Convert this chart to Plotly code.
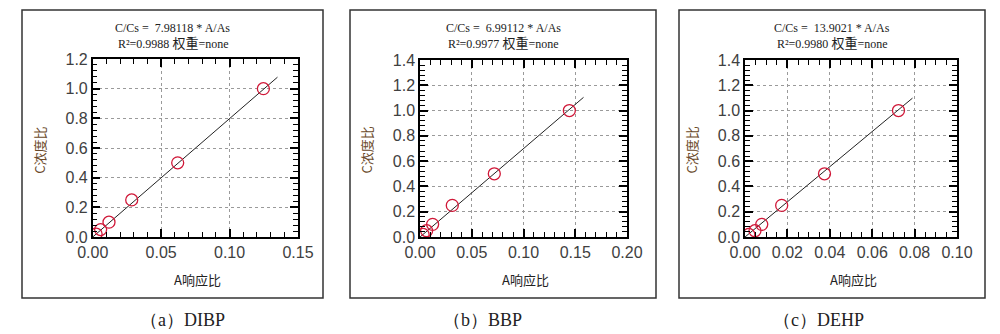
import plotly.graph_objects as go

# Calibration data: concentration ratio C/Cs vs response ratio A/As
conc_ratio = [0.02, 0.05, 0.1, 0.25, 0.5, 1.0]

resp_dibp = [0.0025, 0.0058, 0.0119, 0.0285, 0.0621, 0.1247]
resp_bbp = [0.0030, 0.0064, 0.0122, 0.0312, 0.0718, 0.1443]
resp_dehp = [0.0018, 0.0047, 0.0079, 0.0173, 0.0375, 0.0724]

slopes = [7.98118, 6.99112, 13.9021]
r_squared = [0.9988, 0.9977, 0.9980]
fit_x_end = [0.135, 0.158, 0.079]

compounds = ["DIBP", "BBP", "DEHP"]
panel_tags = ["a", "b", "c"]

x_ranges = [[0, 0.15], [0, 0.20], [0, 0.10]]
y_ranges = [[0, 1.2], [0, 1.4], [0, 1.4]]
x_major = [0.05, 0.05, 0.02]
x_minor = [0.01, 0.01, 0.005]
y_major = [0.2, 0.2, 0.2]
y_minor = [0.04, 0.04, 0.04]

responses = [resp_dibp, resp_bbp, resp_dehp]

W, H = 1000, 334


def px_x(v):
    return v / W


def px_y(v):
    return 1 - v / H


# pixel layout of each panel: frame box and plot area
frames = [(22, 10, 323, 298), (350, 10, 656, 298), (679, 10, 985, 298)]
plot_areas = [(92.7, 59, 298, 237), (420, 60, 627, 237), (745, 60, 957, 237)]
caption_x = [182, 482, 818]

fig = go.Figure()
layout = dict(
    template="none",
    width=W, height=H, margin=dict(l=0, r=0, t=0, b=0),
    paper_bgcolor="white", plot_bgcolor="white", showlegend=False,
    shapes=[], annotations=[],
)

for i in range(3):
    suffix = "" if i == 0 else str(i + 1)
    xa, ya = "x" + suffix, "y" + suffix
    resp = responses[i]
    k = slopes[i]

    fig.add_trace(go.Scatter(
        x=[0, fit_x_end[i]], y=[0, k * fit_x_end[i]],
        mode="lines", line=dict(color="#222222", width=1),
        xaxis=xa, yaxis=ya, hoverinfo="skip",
    ))
    fig.add_trace(go.Scatter(
        x=resp, y=conc_ratio, mode="markers",
        marker=dict(symbol="circle-open", size=12, color="#d01838",
                    line=dict(width=1.3, color="#d01838")),
        xaxis=xa, yaxis=ya,
    ))

    l, t, r, b = plot_areas[i]
    common = dict(
        showline=True, linecolor="black", linewidth=1.5, mirror="allticks",
        ticks="inside", ticklen=8, tickwidth=1.6, tickcolor="#000000",
        showgrid=True, gridcolor="#9a9a9a", griddash="dot", gridwidth=1,
        zeroline=False, automargin=False,
        tickfont=dict(family="Liberation Sans", size=16, color="#404040"),
    )
    layout["xaxis" + suffix] = dict(
        common, domain=[px_x(l), px_x(r)], range=x_ranges[i],
        dtick=x_major[i], tick0=0, tickformat=".2f", anchor=ya,
        minor=dict(dtick=x_minor[i], tick0=0, ticks="inside", ticklen=5,
                   tickcolor="#000000", tickwidth=1.3, showgrid=False),
    )
    layout["yaxis" + suffix] = dict(
        common, domain=[px_y(b), px_y(t)], range=y_ranges[i],
        dtick=y_major[i], tick0=0, tickformat=".1f", anchor=xa,
        minor=dict(dtick=y_minor[i], tick0=0, ticks="inside", ticklen=5,
                   tickcolor="#000000", tickwidth=1.3, showgrid=False),
    )

    fl, ft, fr, fb = frames[i]
    layout["shapes"].append(dict(
        type="rect", xref="paper", yref="paper",
        x0=px_x(fl), x1=px_x(fr), y0=px_y(fb), y1=px_y(ft),
        line=dict(color="#333333", width=1.5),
    ))

    cx = (fl + fr) / 2
    eq_line = f"C/Cs =  {k:g} * A/As"
    r2_line = (
        f"R²={r_squared[i]:.4f} "
        "<span style='font-family:Noto Sans CJK SC;font-size:13px'>权重</span>"
        "=none"
    )
    for text, ypx in ((eq_line, 28), (r2_line, 43)):
        layout["annotations"].append(dict(
            x=px_x(cx), y=px_y(ypx), xref="paper", yref="paper",
            text=text, showarrow=False, xanchor="center", yanchor="middle",
            font=dict(family="Liberation Serif", size=12, color="#222222"),
        ))
    layout["annotations"].append(dict(
        x=px_x(l - 54), y=px_y((t + b) / 2 + 2), xref="paper", yref="paper",
        text="C浓度比", textangle=-90, showarrow=False,
        xanchor="center", yanchor="middle",
        font=dict(family="Noto Sans CJK SC", size=13, color="#6b4a2a"),
    ))
    layout["annotations"].append(dict(
        x=px_x((l + r) / 2 + 2), y=px_y(279), xref="paper", yref="paper",
        text="A响应比", showarrow=False, xanchor="center", yanchor="middle",
        font=dict(family="Noto Sans CJK SC", size=13, color="#222222"),
    ))
    layout["annotations"].append(dict(
        x=px_x(caption_x[i]), y=px_y(320), xref="paper", yref="paper",
        text=f"（{panel_tags[i]}）{compounds[i]}", showarrow=False,
        xanchor="center", yanchor="middle",
        font=dict(family="Liberation Serif", size=18, color="#222222"),
    ))

fig.update_layout(**layout)
fig.write_html("out.html")
